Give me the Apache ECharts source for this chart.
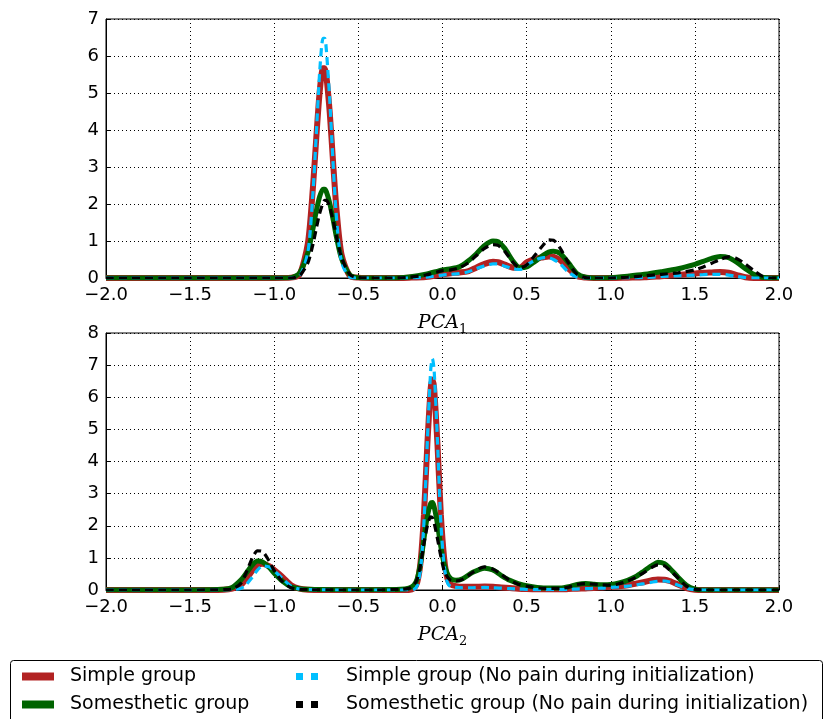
<!DOCTYPE html>
<html>
<head>
<meta charset="utf-8">
<script src="https://cdn.jsdelivr.net/npm/echarts@6/dist/echarts.min.js"></script>
<style>html,body{margin:0;padding:0;background:#fff}#c{width:823px;height:719px}</style>
</head>
<body>
<div id="c"></div>
<script>
// ---------- DATA ----------
var seriesNames = ['Simple group', 'Somesthetic group', 'Simple group (No pain during initialization)', 'Somesthetic group (No pain during initialization)'];
var xTicks = [-2.0, -1.5, -1.0, -0.5, 0.0, 0.5, 1.0, 1.5, 2.0];
var topYTicks = [0, 1, 2, 3, 4, 5, 6, 7];
var botYTicks = [0, 1, 2, 3, 4, 5, 6, 7, 8];

// PCA_1 panel
var topX = [-2.0, -1.5, -1.0, -0.9, -0.85, -0.8, -0.77, -0.75, -0.73, -0.71, -0.70, -0.69, -0.67, -0.65, -0.63, -0.6, -0.55, -0.5, -0.4, -0.3, -0.2, -0.1, 0.0, 0.05, 0.1, 0.15, 0.2, 0.25, 0.3, 0.33, 0.37, 0.42, 0.46, 0.5, 0.55, 0.6, 0.63, 0.66, 0.7, 0.75, 0.8, 0.85, 0.9, 1.0, 1.1, 1.2, 1.3, 1.4, 1.5, 1.55, 1.6, 1.65, 1.7, 1.75, 1.8, 1.85, 1.9, 1.95, 2.0];
var topSimple = [0, 0, 0, 0.01, 0.09, 0.94, 2.45, 3.8, 5.03, 5.67, 5.67, 5.45, 4.46, 3.11, 1.85, 0.63, 0.05, 0.01, 0, 0, 0.01, 0.03, 0.1, 0.13, 0.15, 0.18, 0.28, 0.38, 0.44, 0.43, 0.36, 0.28, 0.28, 0.42, 0.52, 0.56, 0.58, 0.57, 0.48, 0.25, 0.05, 0.01, 0, 0, 0.01, 0.02, 0.05, 0.08, 0.12, 0.14, 0.15, 0.16, 0.14, 0.08, 0.02, 0, 0, 0, 0];
var topSomest = [0, 0, 0, 0.01, 0.13, 0.69, 1.33, 1.81, 2.2, 2.4, 2.4, 2.33, 2.02, 1.58, 1.1, 0.52, 0.085, 0.01, 0, 0, 0.03, 0.1, 0.22, 0.25, 0.3, 0.45, 0.65, 0.88, 1.0, 0.98, 0.8, 0.45, 0.28, 0.3, 0.45, 0.62, 0.7, 0.72, 0.66, 0.4, 0.12, 0.02, 0, 0.01, 0.05, 0.1, 0.17, 0.25, 0.37, 0.45, 0.53, 0.58, 0.55, 0.42, 0.25, 0.1, 0.02, 0, 0];
var topSimpleNP = [0, 0, 0, 0, 0.04, 0.7, 2.3, 3.9, 5.57, 6.48, 6.48, 6.15, 4.8, 3.08, 1.62, 0.43, 0.02, 0, 0, 0, 0, 0.02, 0.08, 0.1, 0.12, 0.16, 0.25, 0.33, 0.38, 0.38, 0.32, 0.25, 0.23, 0.35, 0.48, 0.55, 0.55, 0.5, 0.38, 0.15, 0.02, 0, 0, 0, 0, 0.01, 0.04, 0.06, 0.08, 0.09, 0.1, 0.1, 0.08, 0.04, 0.01, 0, 0, 0, 0];
var topSomestNP = [0, 0, 0, 0, 0.06, 0.41, 0.91, 1.34, 1.75, 2.03, 2.1, 2.1, 1.91, 1.55, 1.12, 0.55, 0.09, 0.01, 0, 0, 0.02, 0.08, 0.2, 0.22, 0.28, 0.4, 0.6, 0.8, 0.9, 0.88, 0.72, 0.42, 0.27, 0.35, 0.62, 0.9, 1.03, 1.02, 0.8, 0.4, 0.1, 0.01, 0, 0, 0.02, 0.06, 0.1, 0.14, 0.22, 0.3, 0.4, 0.5, 0.57, 0.52, 0.38, 0.2, 0.05, 0, 0];

// PCA_2 panel
var botX = [-2.0, -1.5, -1.3, -1.25, -1.2, -1.17, -1.13, -1.1, -1.07, -1.03, -1.0, -0.95, -0.9, -0.85, -0.8, -0.6, -0.4, -0.25, -0.2, -0.17, -0.15, -0.13, -0.11, -0.09, -0.07, -0.06, -0.05, -0.03, -0.01, 0.01, 0.03, 0.05, 0.08, 0.12, 0.18, 0.25, 0.3, 0.35, 0.4, 0.45, 0.5, 0.6, 0.7, 0.75, 0.8, 0.85, 0.9, 0.95, 1.0, 1.05, 1.1, 1.15, 1.2, 1.25, 1.28, 1.32, 1.35, 1.4, 1.45, 1.5, 1.55, 1.7, 2.0];
var botSimple = [0, 0, 0.01, 0.04, 0.15, 0.32, 0.6, 0.78, 0.82, 0.74, 0.62, 0.4, 0.15, 0.04, 0.01, 0, 0, 0, 0, 0.05, 0.24, 0.89, 2.36, 4.54, 6.29, 6.55, 6.29, 4.54, 2.36, 0.99, 0.34, 0.17, 0.12, 0.1, 0.1, 0.11, 0.1, 0.08, 0.06, 0.04, 0.03, 0.02, 0.02, 0.03, 0.04, 0.05, 0.06, 0.08, 0.1, 0.12, 0.15, 0.2, 0.25, 0.31, 0.33, 0.32, 0.28, 0.17, 0.06, 0.01, 0, 0, 0];
var botSomest = [0, 0, 0.02, 0.08, 0.3, 0.5, 0.78, 0.9, 0.87, 0.7, 0.52, 0.27, 0.1, 0.04, 0.02, 0.01, 0.01, 0.02, 0.06, 0.15, 0.35, 0.85, 1.6, 2.3, 2.7, 2.72, 2.6, 2.05, 1.35, 0.8, 0.5, 0.35, 0.3, 0.35, 0.55, 0.68, 0.62, 0.45, 0.3, 0.2, 0.13, 0.06, 0.06, 0.1, 0.17, 0.2, 0.18, 0.16, 0.17, 0.22, 0.3, 0.42, 0.6, 0.78, 0.86, 0.82, 0.68, 0.4, 0.15, 0.03, 0, 0, 0];
var botSimpleNP = [0, 0, 0, 0.01, 0.05, 0.15, 0.4, 0.62, 0.75, 0.72, 0.6, 0.35, 0.12, 0.03, 0.01, 0, 0, 0, 0, 0.02, 0.14, 0.66, 2.12, 4.64, 6.86, 7.2, 6.86, 4.64, 2.12, 0.74, 0.22, 0.1, 0.08, 0.07, 0.07, 0.08, 0.07, 0.06, 0.04, 0.03, 0.02, 0.01, 0.01, 0.02, 0.03, 0.04, 0.05, 0.06, 0.08, 0.1, 0.12, 0.16, 0.2, 0.25, 0.27, 0.28, 0.25, 0.15, 0.05, 0.01, 0, 0, 0];
var botSomestNP = [0, 0, 0.01, 0.03, 0.2, 0.5, 1.0, 1.22, 1.2, 0.9, 0.6, 0.25, 0.07, 0.02, 0.01, 0, 0, 0.02, 0.05, 0.15, 0.35, 0.8, 1.45, 2.0, 2.28, 2.25, 2.1, 1.6, 1.05, 0.6, 0.4, 0.3, 0.28, 0.33, 0.55, 0.72, 0.65, 0.48, 0.3, 0.18, 0.12, 0.05, 0.05, 0.09, 0.17, 0.2, 0.18, 0.16, 0.15, 0.2, 0.28, 0.4, 0.55, 0.72, 0.78, 0.75, 0.62, 0.38, 0.12, 0.02, 0, 0, 0];

// ---------- CHART ----------
function zip(xs, ys) { return xs.map(function (x, i) { return [x, ys[i]]; }); }
function fmtX(v) { return v.toFixed(1).replace('-', '\u2212'); }

var FONT = 'DejaVu Sans';
var colors = ['#b22222', '#006400', '#00bfff', '#000000'];

function xAxisDef(gi, sub) {
  return {
    type: 'value', gridIndex: gi, min: -2, max: 2, interval: 0.5,
    axisLine: { show: true, onZero: false, lineStyle: { color: '#000', width: 1 } },
    axisTick: { show: true, inside: true, length: 5, lineStyle: { color: '#000' } },
    axisLabel: { color: '#000', fontSize: 18, fontFamily: FONT, margin: 8, formatter: fmtX },
    splitLine: { show: true, lineStyle: { color: '#000', type: [1, 3], width: 1 } },
    name: '{a|PCA}{s|' + sub + '}', nameLocation: 'middle', nameGap: 33,
    nameTextStyle: {
      rich: {
        a: { fontFamily: 'DejaVu Serif', fontStyle: 'italic', fontSize: 19, color: '#000' },
        s: { fontFamily: 'DejaVu Serif', fontSize: 13, color: '#000', padding: [12, 0, 0, 0] }
      }
    }
  };
}
function yAxisDef(gi, max) {
  return {
    type: 'value', gridIndex: gi, min: 0, max: max, interval: 1,
    axisLine: { show: true, onZero: false, lineStyle: { color: '#000', width: 1 } },
    axisTick: { show: true, inside: true, length: 5, lineStyle: { color: '#000' } },
    axisLabel: { color: '#000', fontSize: 18, fontFamily: FONT, margin: 7 },
    splitLine: { show: true, lineStyle: { color: '#000', type: [1, 3], width: 1 } }
  };
}
function lineSeries(idx, gi, xs, ys) {
  var dashed = idx >= 2;
  return {
    name: seriesNames[idx], type: 'line', xAxisIndex: gi, yAxisIndex: gi,
    data: zip(xs, ys), showSymbol: false, smooth: 0.25,
    color: colors[idx], z: 2 + idx,
    lineStyle: {
      color: colors[idx],
      width: idx === 0 ? 6 : (idx === 1 ? 5 : 3.2),
      type: dashed ? [8, 5] : 'solid'
    },
    emphasis: { disabled: true }
  };
}

var chart = echarts.init(document.getElementById('c'), null, { renderer: 'canvas' });
chart.setOption({
  animation: false,
  backgroundColor: '#fff',
  grid: [
    { left: 106, right: 44, top: 19, height: 259, show: true, borderColor: '#000', borderWidth: 1, backgroundColor: 'transparent' },
    { left: 106, right: 44, top: 333, height: 257, show: true, borderColor: '#000', borderWidth: 1, backgroundColor: 'transparent' }
  ],
  xAxis: [xAxisDef(0, '1'), xAxisDef(1, '2')],
  yAxis: [yAxisDef(0, 7), yAxisDef(1, 8)],
  legend: [
    {
      left: 22, top: 667, padding: 0, orient: 'vertical', itemGap: 9, itemWidth: 32, itemHeight: 8,
      data: [{ name: seriesNames[0], icon: 'rect' }, { name: seriesNames[1], icon: 'rect' }],
      textStyle: { fontSize: 19, fontFamily: FONT, color: '#000', padding: [0, 0, 0, 11] },
      selectedMode: false
    },
    {
      left: 296, top: 667, padding: 0, orient: 'vertical', itemGap: 9, itemWidth: 22, itemHeight: 7,
      data: [
        { name: seriesNames[2], icon: 'path://M0,0h7v7h-7z M15,0h7v7h-7z' },
        { name: seriesNames[3], icon: 'path://M0,0h7v7h-7z M15,0h7v7h-7z' }
      ],
      textStyle: { fontSize: 19, fontFamily: FONT, color: '#000', padding: [0, 0, 0, 23] },
      selectedMode: false
    }
  ],
  graphic: [
    { type: 'rect', left: 8, top: 658, shape: { width: 812, height: 70, r: 3 }, style: { fill: 'none', stroke: '#000', lineWidth: 1 }, z: -1 }
  ],
  series: [
    lineSeries(0, 0, topX, topSimple),
    lineSeries(1, 0, topX, topSomest),
    lineSeries(2, 0, topX, topSimpleNP),
    lineSeries(3, 0, topX, topSomestNP),
    lineSeries(0, 1, botX, botSimple),
    lineSeries(1, 1, botX, botSomest),
    lineSeries(2, 1, botX, botSimpleNP),
    lineSeries(3, 1, botX, botSomestNP)
  ]
});
</script>
</body>
</html>
